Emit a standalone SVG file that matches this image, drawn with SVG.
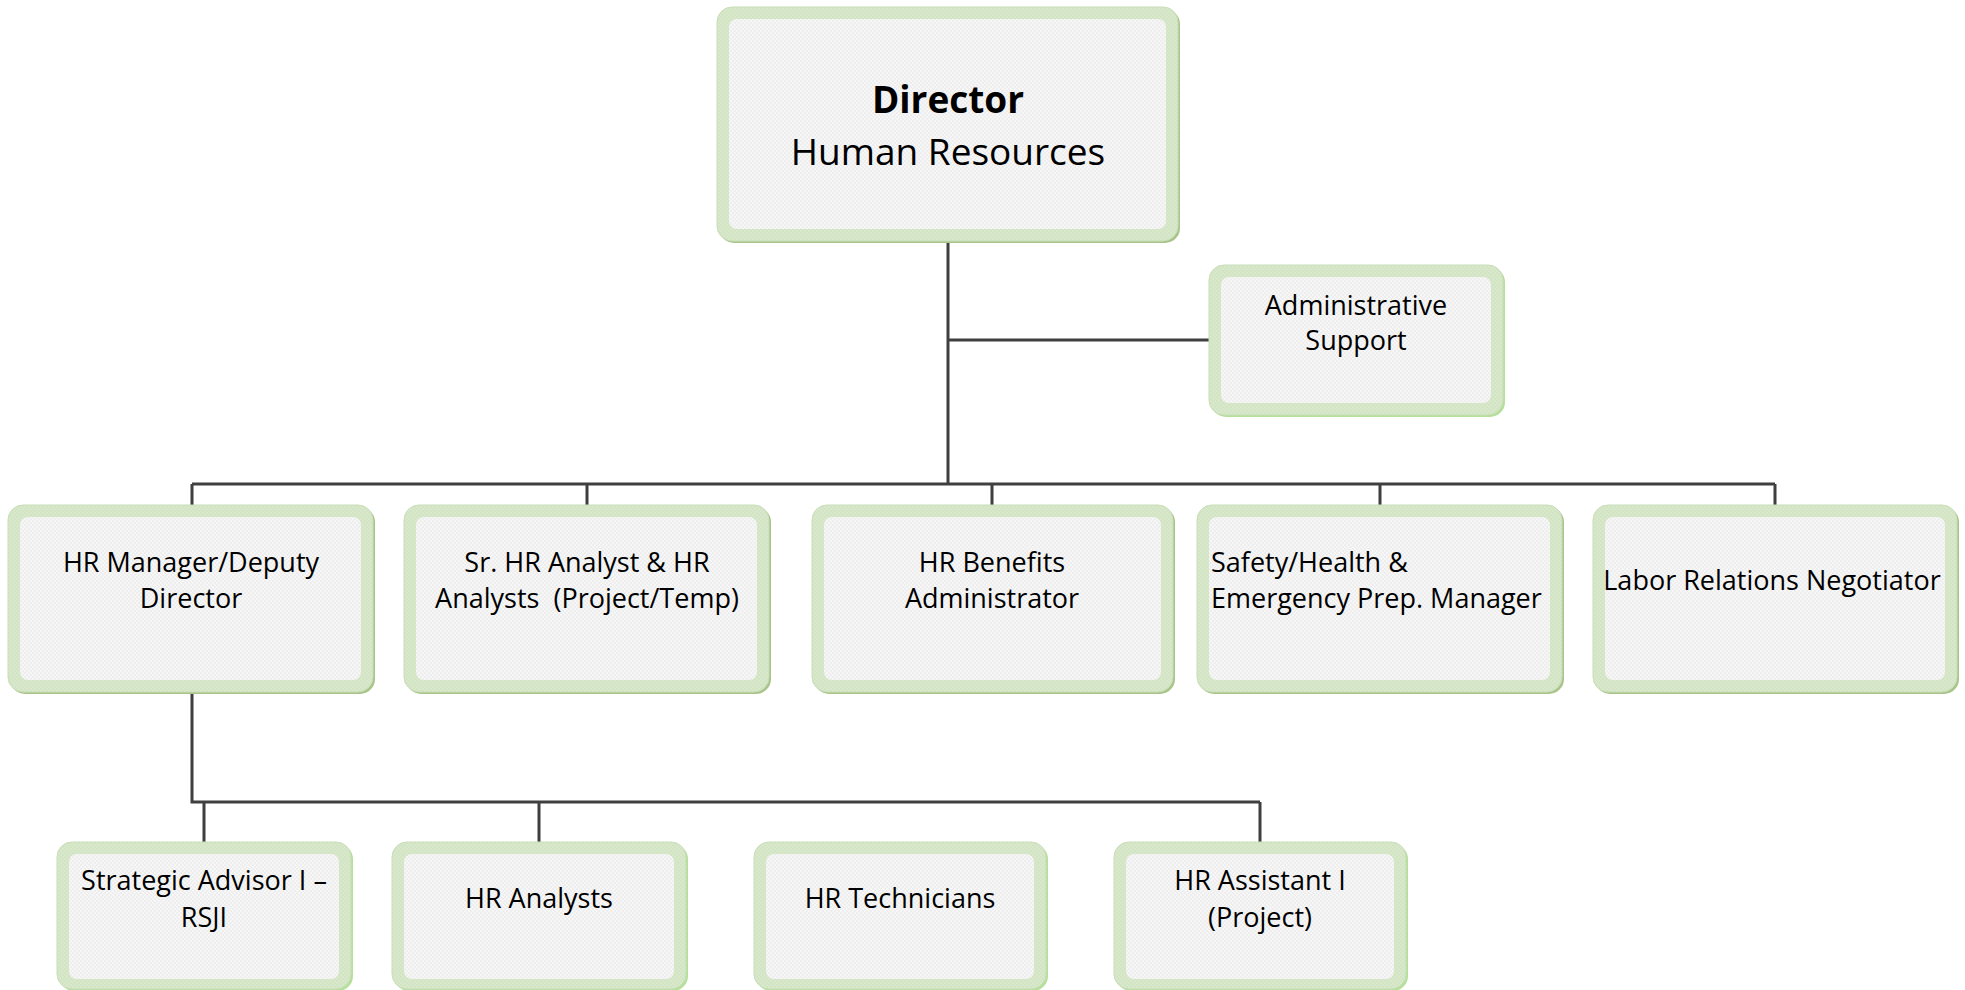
<svg xmlns="http://www.w3.org/2000/svg" width="1965" height="990" viewBox="0 0 1965 990">
<defs>
<pattern id="dots" width="4" height="4" patternUnits="userSpaceOnUse">
<rect width="4" height="4" fill="#f6f6f6"/>
<circle cx="1" cy="1" r="0.7" fill="#e0e0e0"/>
<circle cx="3" cy="3" r="0.7" fill="#e0e0e0"/>
</pattern>
<pattern id="gdots" width="4" height="4" patternUnits="userSpaceOnUse">
<rect width="4" height="4" fill="#d8e9cb"/>
<circle cx="1" cy="1" r="0.7" fill="#c8ddb6"/>
<circle cx="3" cy="3" r="0.7" fill="#c8ddb6"/>
</pattern>
</defs>
<style>
.sh{fill:#a9c48a;}
.shl{fill:#b4e09a;}
.outer{fill:url(#gdots);stroke:#c9ddb8;stroke-width:1;}
.inner{fill:url(#dots);}
.t{font-family:"Open Sans","Noto Sans","Liberation Sans",sans-serif;font-size:27px;fill:#000;text-anchor:middle;}
.tl{text-anchor:start;}
.big{font-size:37px;}
.b{font-weight:bold;}
.con{fill:none;stroke:#3f3f3f;stroke-width:3;}
</style>
<rect width="1965" height="990" fill="#fff"/>
<g id="connectors">
<path class="con" d="M948 241V484M948 340H1209M192 484H1775M192 484V505M587 484V505M992 484V505M1380 484V505M1775 484V505"/>
<path class="con" d="M192 692V802H1260M204 802V842M539 802V842M1260 802V842"/>
</g>
<g id="director">
<rect class="sh" x="719" y="9" width="461" height="234" rx="15"/>
<rect class="outer" x="717" y="7" width="461" height="234" rx="15"/>
<rect class="inner" x="729" y="19" width="437" height="210" rx="8"/>
<text class="t big b" x="948" y="113">Director</text>
<text class="t big" x="948" y="165">Human Resources</text>
</g>
<g id="admin">
<rect class="shl" x="1211" y="267" width="294" height="150" rx="15"/>
<rect class="outer" x="1209" y="265" width="294" height="150" rx="15"/>
<rect class="inner" x="1221" y="277" width="270" height="126" rx="8"/>
<text class="t" x="1356" y="315">Administrative</text>
<text class="t" x="1356" y="350">Support</text>
</g>
<g id="hr-manager">
<rect class="sh" x="10" y="507" width="365" height="187" rx="15"/>
<rect class="outer" x="8" y="505" width="365" height="187" rx="15"/>
<rect class="inner" x="20" y="517" width="341" height="163" rx="8"/>
<text class="t" x="191" y="572">HR Manager/Deputy</text>
<text class="t" x="191" y="608">Director</text>
</g>
<g id="sr-hr-analyst">
<rect class="sh" x="406" y="507" width="365" height="187" rx="15"/>
<rect class="outer" x="404" y="505" width="365" height="187" rx="15"/>
<rect class="inner" x="416" y="517" width="341" height="163" rx="8"/>
<text class="t" x="587" y="572">Sr. HR Analyst &amp; HR</text>
<text class="t" x="587" y="608" xml:space="preserve">Analysts  (Project/Temp)</text>
</g>
<g id="benefits">
<rect class="sh" x="814" y="507" width="361" height="187" rx="15"/>
<rect class="outer" x="812" y="505" width="361" height="187" rx="15"/>
<rect class="inner" x="824" y="517" width="337" height="163" rx="8"/>
<text class="t" x="992" y="572">HR Benefits</text>
<text class="t" x="992" y="608">Administrator</text>
</g>
<g id="safety">
<rect class="sh" x="1199" y="507" width="365" height="187" rx="15"/>
<rect class="outer" x="1197" y="505" width="365" height="187" rx="15"/>
<rect class="inner" x="1209" y="517" width="341" height="163" rx="8"/>
<text class="t tl" x="1211" y="572">Safety/Health &amp;</text>
<text class="t tl" x="1211" y="608">Emergency Prep. Manager</text>
</g>
<g id="labor">
<rect class="sh" x="1595" y="507" width="364" height="187" rx="15"/>
<rect class="outer" x="1593" y="505" width="364" height="187" rx="15"/>
<rect class="inner" x="1605" y="517" width="340" height="163" rx="8"/>
<text class="t" x="1772" y="590">Labor Relations Negotiator</text>
</g>
<g id="strategic">
<rect class="shl" x="59" y="844" width="294" height="147" rx="15"/>
<rect class="outer" x="57" y="842" width="294" height="147" rx="15"/>
<rect class="inner" x="69" y="854" width="270" height="125" rx="8"/>
<text class="t" x="204" y="890">Strategic Advisor I –</text>
<text class="t" x="204" y="927">RSJI</text>
</g>
<g id="hr-analysts">
<rect class="shl" x="394" y="844" width="294" height="147" rx="15"/>
<rect class="outer" x="392" y="842" width="294" height="147" rx="15"/>
<rect class="inner" x="404" y="854" width="270" height="125" rx="8"/>
<text class="t" x="539" y="908">HR Analysts</text>
</g>
<g id="hr-technicians">
<rect class="shl" x="756" y="844" width="292" height="147" rx="15"/>
<rect class="outer" x="754" y="842" width="292" height="147" rx="15"/>
<rect class="inner" x="766" y="854" width="268" height="125" rx="8"/>
<text class="t" x="900" y="908">HR Technicians</text>
</g>
<g id="hr-assistant">
<rect class="shl" x="1116" y="844" width="292" height="147" rx="15"/>
<rect class="outer" x="1114" y="842" width="292" height="147" rx="15"/>
<rect class="inner" x="1126" y="854" width="268" height="125" rx="8"/>
<text class="t" x="1260" y="890">HR Assistant I</text>
<text class="t" x="1260" y="927">(Project)</text>
</g>
</svg>
